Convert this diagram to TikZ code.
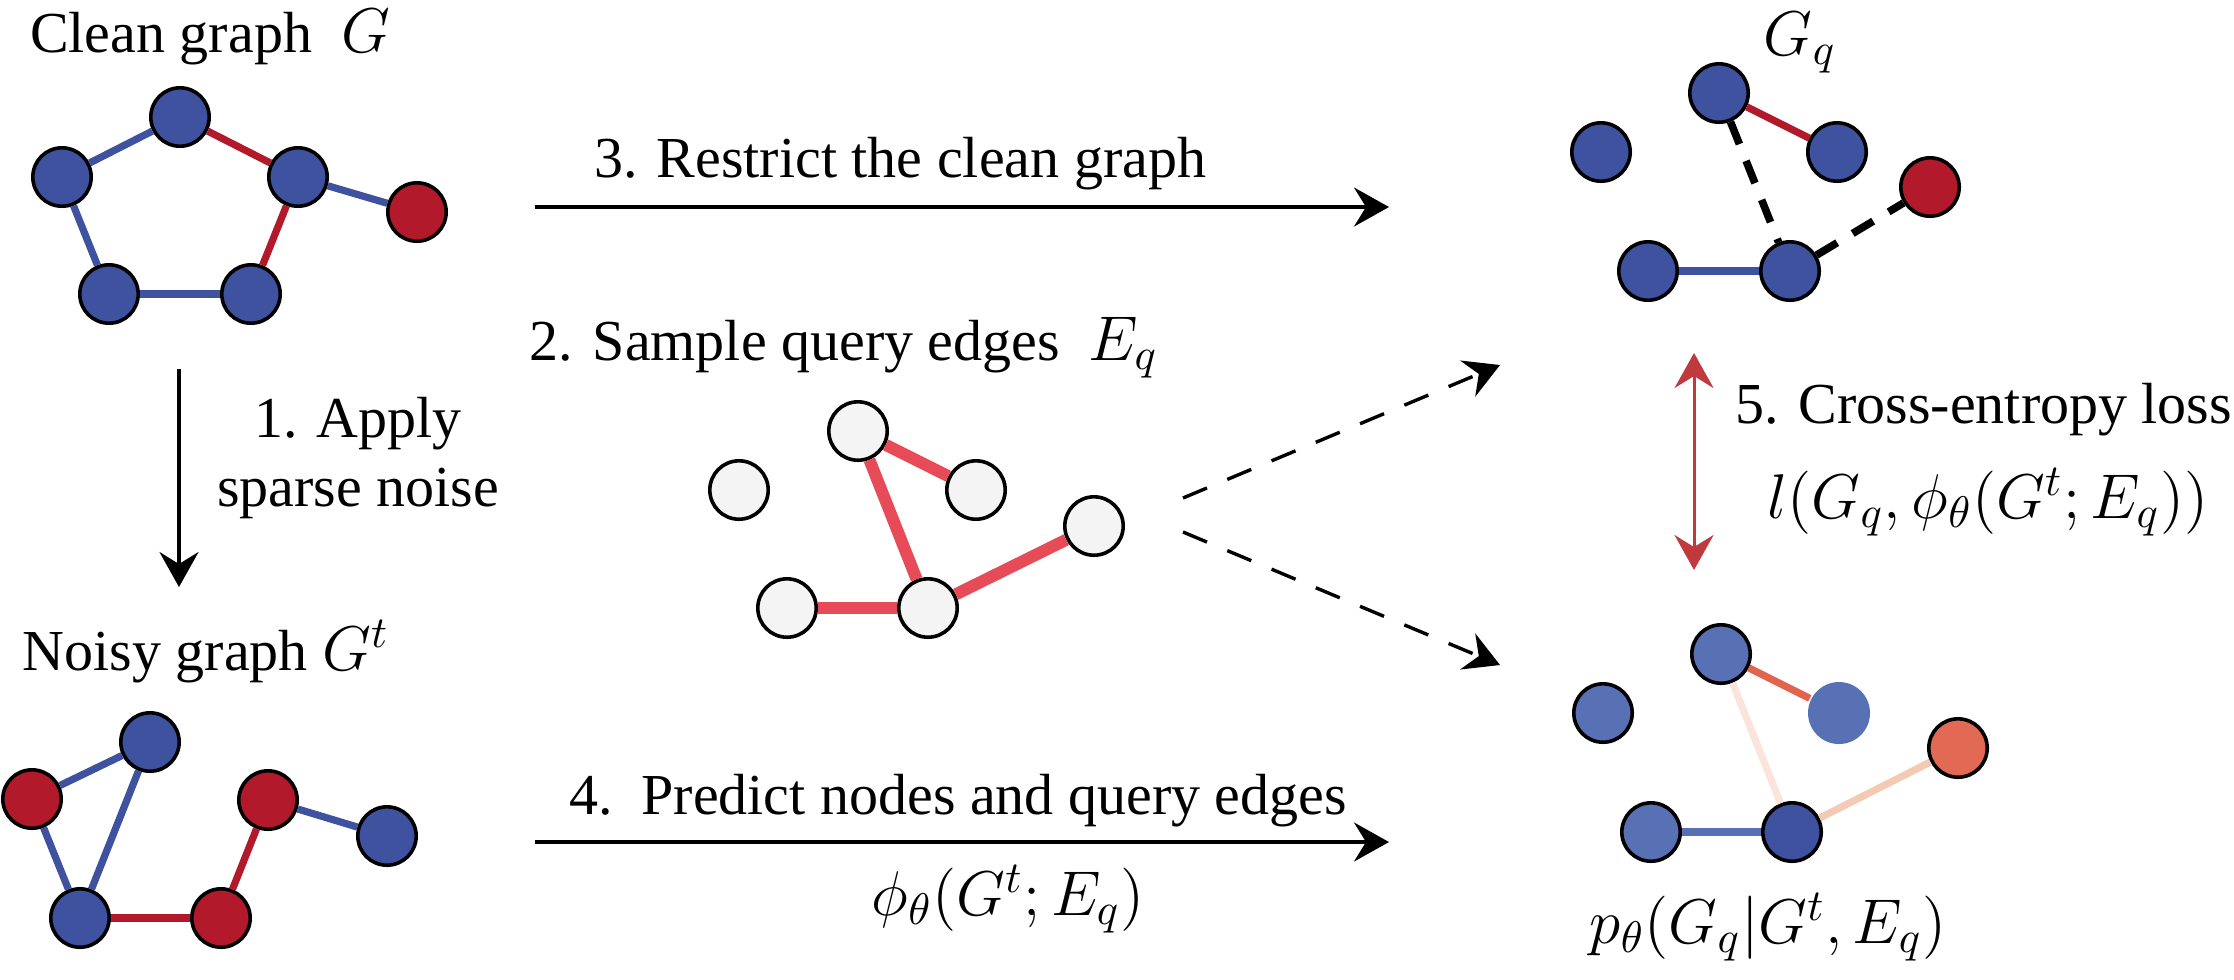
\documentclass[tikz,border=0pt]{standalone}
\usepackage{fix-cm}
\usepackage{fontspec}
\setmainfont{Liberation Serif}
\usetikzlibrary{arrows.meta}

\definecolor{nblue}{HTML}{3E529F}
\definecolor{nred}{HTML}{B2192B}
\definecolor{lblue}{HTML}{5871B5}
\definecolor{qred}{HTML}{E84B58}
\definecolor{qfill}{HTML}{F4F4F4}
\definecolor{porange}{HTML}{E26A54}
\definecolor{pedge}{HTML}{E0644E}
\definecolor{ppeach}{HTML}{F3CBB5}
\definecolor{ppink}{HTML}{FBE4DB}
\definecolor{lossred}{HTML}{C0393D}
\newcommand{\mbig}{\fontsize{15.8}{19}\selectfont}

\begin{document}
\begin{tikzpicture}[
		x=0.25pt, y=-0.25pt,
		vertex/.style={
			draw=black,
			circle,
			line width=0.9pt,
			minimum size=14.6pt,
			inner sep=0
		},
		bnode/.style={vertex,fill=nblue},
		rnode/.style={vertex,fill=nred},
		snode/.style={vertex,fill=qfill},
		lnode/.style={vertex,fill=lblue},
		link/.style={line width=1.8pt},
		qlink/.style={line width=3pt,qred},
		dlink/.style={line width=1.9pt,dash pattern=on 6pt off 4.5pt},
		txt/.style={font=\fontsize{14.5}{17.25}\selectfont,inner sep=0,anchor=base},
		mtxt/.style={txt,font=\mbig},
		flow/.style={->,line width=0.85pt},
		>={Stealth[length=8.75pt,width=9.75pt,inset=3pt]}
		]
		\useasboundingbox (0,0) rectangle (2234,979);
		% Clean graph
		\node[txt] (lclean) at (210,52) {Clean graph\ \ {\mbig$G$}};
		\node[bnode] (c1) at (180,117) {};
		\node[bnode] (c2) at (62,177) {};
		\node[bnode] (c3) at (298,177) {};
		\node[rnode] (c4) at (417,212) {};
		\node[bnode] (c5) at (109,294) {};
		\node[bnode] (c6) at (251,294) {};
		\foreach \a/\b/\c in {c2/c1/nblue,c1/c3/nred,c3/c4/nblue,c3/c6/nred,c2/c5/nblue,c5/c6/nblue}
			\draw[link,\c] (\a) -- (\b);
		% Noisy graph
		\node[txt] (lnoisy) at (206,670) {Noisy graph {\mbig$G^t$}};
		\node[rnode] (t1) at (32,799) {};
		\node[bnode] (t2) at (150,742) {};
		\node[bnode] (t3) at (80,918) {};
		\node[rnode] (t4) at (221,918) {};
		\node[rnode] (t5) at (268,800) {};
		\node[bnode] (t6) at (387,836) {};
		\foreach \a/\b/\c in {t1/t2/nblue,t1/t3/nblue,t2/t3/nblue,t3/t4/nred,t4/t5/nred,t5/t6/nblue}
			\draw[link,\c] (\a) -- (\b);
		% Sampled query edges
		\node[txt] (lsample) at (844,360) {2. Sample query edges\ \ {\mbig$E_q$}};
		\node[snode] (s1) at (739,490) {};
		\node[snode] (s2) at (858,431) {};
		\node[snode] (s3) at (976,490) {};
		\node[snode] (s4) at (1094,526) {};
		\node[snode] (s5) at (787,608) {};
		\node[snode] (s6) at (928,608) {};
		\foreach \a/\b in {s2/s3,s2/s6,s5/s6,s6/s4}
			\draw[qlink] (\a) -- (\b);
		% Restricted graph
		\node[mtxt] (lgq) at (1800,55) {$G_q$};
		\node[bnode] (q1) at (1601,152) {};
		\node[bnode] (q2) at (1719,93) {};
		\node[bnode] (q3) at (1837,152) {};
		\node[bnode] (q4) at (1648,271) {};
		\node[bnode] (q5) at (1790,271) {};
		\node[rnode] (q6) at (1930,187) {};
		\draw[link,nred] (q2) -- (q3);
		\draw[link,nblue] (q4) -- (q5);
		\draw[dlink] (q2) -- (q5);
		\draw[dlink] (q5) -- (q6);
		% Prediction
		\node[mtxt] (lpred) at (1768,943) {$p_\theta(G_q|G^t,E_q)$};
		\node[lnode] (p1) at (1603,713) {};
		\node[lnode] (p2) at (1721,654) {};
		\node[lnode,draw=none,minimum size=15.5pt] (p3) at (1839,713) {};
		\node[lnode] (p4) at (1651,832) {};
		\node[bnode] (p5) at (1792,832) {};
		\node[vertex,fill=porange] (p6) at (1958,748) {};
		\draw[link,pedge] (p2) -- (p3);
		\draw[link,ppink] (p2) -- (p5);
		\draw[link,ppeach] (p5) -- (p6);
		\draw[link,lblue] (p4) -- (p5);
		% Arrow ends
		\coordinate (a1s) at (179,369);
		\coordinate (a1e) at (179,587);
		\coordinate (a3s) at (535,207);
		\coordinate (a3e) at (1389,207);
		\coordinate (a4s) at (535,842);
		\coordinate (a4e) at (1389,842);
		\coordinate (dus) at (1183,498);
		\coordinate (due) at (1500,365);
		\coordinate (dls) at (1183,532);
		\coordinate (dle) at (1500,665);
		\coordinate (ls) at (1694,353);
		\coordinate (le) at (1694,570);
		% Steps
		\draw[flow] (a1s) -- (a1e);
		\node[txt,align=center] (lstep1) at (358,506) {1. Apply\\sparse noise};
		\draw[flow] (a3s) -- (a3e);
		\node[txt] (lstep3) at (900,177) {3. Restrict the clean graph};
		\draw[flow] (a4s) -- (a4e);
		\node[txt] (lstep4) at (958,814) {4.~\ Predict nodes and query edges};
		\node[mtxt] (lphi) at (1008,915) {$\phi_\theta(G^t;E_q)$};
		\draw[flow,dash pattern=on 6.5pt off 5.5pt] (dus) -- (due);
		\draw[flow,dash pattern=on 6.5pt off 5.5pt] (dls) -- (dle);
		% Loss
		\draw[<->,line width=0.75pt,lossred] (ls) -- (le);
		\node[txt] (lstep5) at (1984,423) {5. Cross-entropy loss};
		\node[mtxt] (lloss) at (1988,518) {$l(G_q,\phi_\theta(G^t;E_q))$};
\end{tikzpicture}
\end{document}
